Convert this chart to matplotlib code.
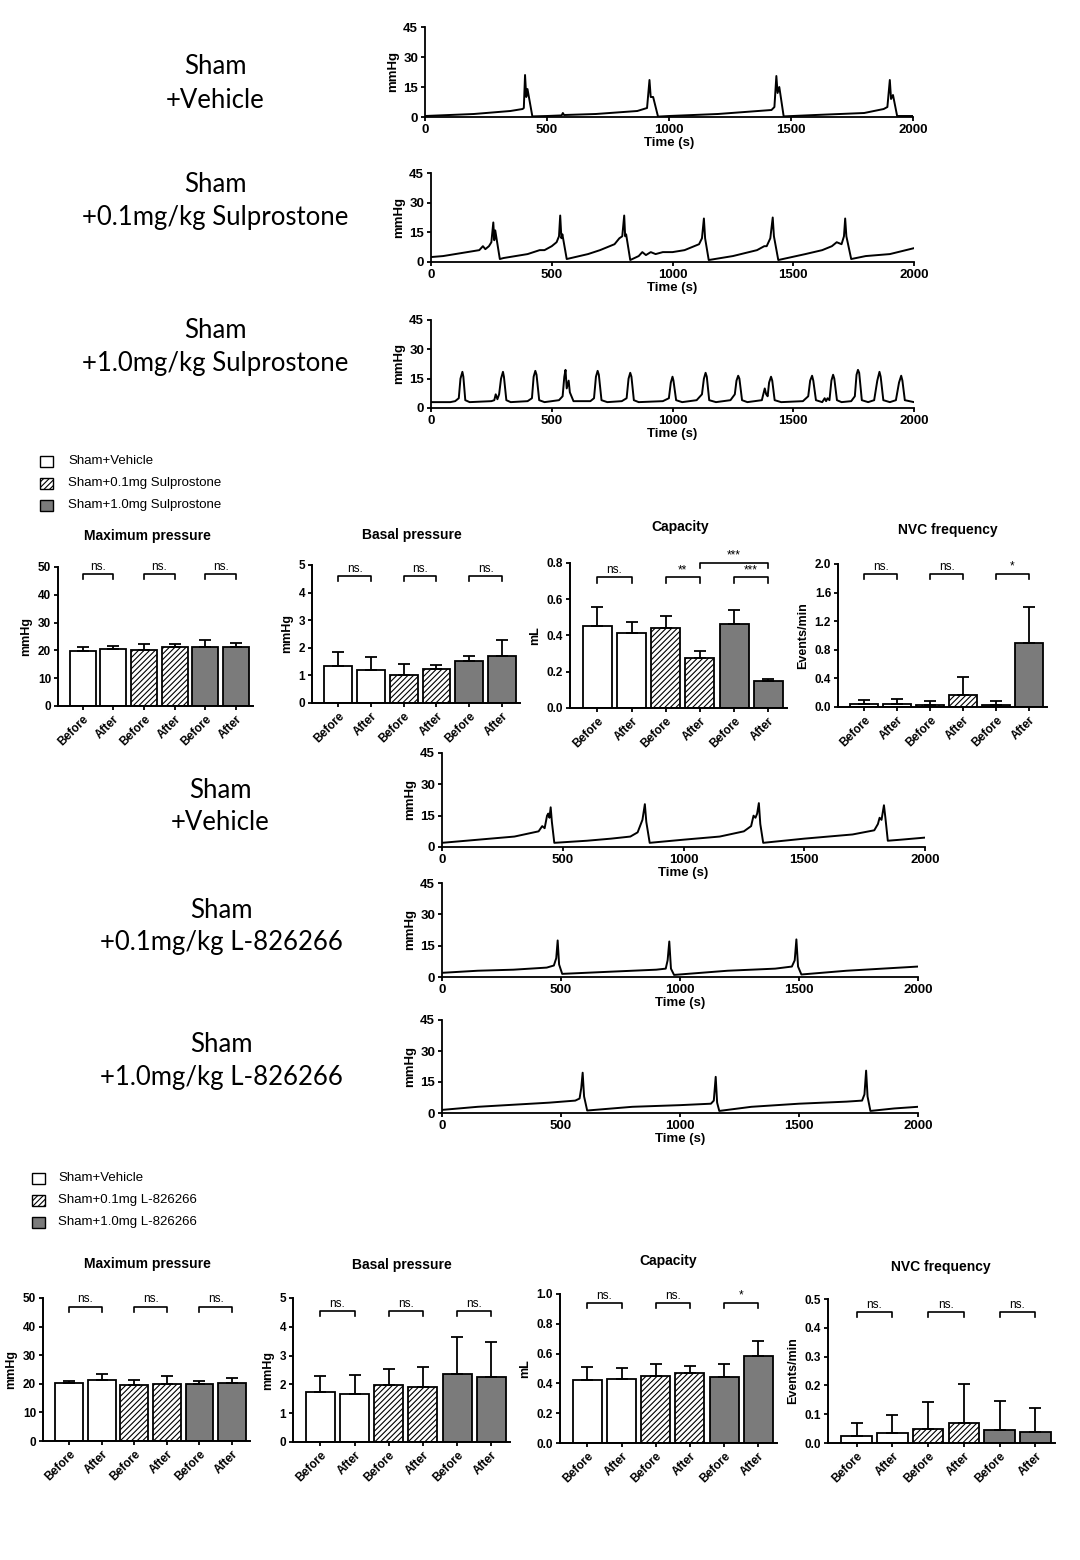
import numpy as np
import matplotlib
matplotlib.use('Agg')
import matplotlib.pyplot as plt
from matplotlib.patches import Rectangle
from matplotlib.ticker import FormatStrFormatter

plt.rcParams['font.family'] = ['Liberation Sans', 'DejaVu Sans']
plt.rcParams['hatch.linewidth'] = 0.8

W, H = 1080, 1560

# ---- pressure traces: (time s, pressure mmHg) ----
TRACE_S_VEH = [(0, 0.5), (200, 1.5), (350, 3.0), (400, 4.0), (405, 4.5), (410, 21), (415, 10),
               (420, 14), (440, 0.3), (500, 0.5), (560, 0.8), (565, 2.0), (570, 1.0), (700, 1.5),
               (870, 3.0), (910, 4.5), (920, 18.5), (925, 10), (935, 10), (955, 0.2), (1000, 0.5),
               (1200, 1.5), (1420, 3.5), (1432, 5.0), (1440, 20.5), (1445, 12), (1452, 15), (1470, 0.3),
               (1600, 1.0), (1800, 2.0), (1880, 4.0), (1895, 5.0), (1905, 18.5), (1910, 9), (1918, 11),
               (1935, 0.5), (2000, 0.5)]
TRACE_S_01 = [(0, 2.5), (50, 3), (100, 4), (150, 5), (200, 6), (215, 8), (225, 6.5), (240, 8),
              (250, 10), (258, 20), (262, 11), (266, 16), (285, 1.5), (300, 2), (400, 4), (450, 6),
              (470, 6), (500, 8), (520, 10), (530, 13), (535, 23.5), (540, 12), (544, 14), (562, 1.5),
              (650, 4), (700, 6), (740, 8), (760, 9), (780, 12), (792, 13), (800, 23.5), (804, 13),
              (808, 14), (825, 1), (860, 3), (875, 5), (890, 3.5), (910, 5), (930, 4), (960, 5),
              (1000, 5), (1050, 6), (1090, 8), (1110, 9), (1122, 12), (1130, 22), (1135, 12),
              (1150, 1), (1250, 3), (1350, 6), (1380, 8), (1390, 8), (1405, 12), (1415, 22.5),
              (1420, 13), (1438, 1), (1550, 4), (1620, 6), (1660, 8), (1680, 10), (1700, 9),
              (1710, 13), (1715, 22), (1720, 13), (1740, 1.5), (1800, 3), (1900, 4), (2000, 7)]
TRACE_S_10 = [(0, 3), (80, 3), (100, 3.5), (115, 5), (122, 15), (130, 18.5), (134, 16), (142, 4),
              (160, 3), (250, 3.5), (262, 4), (268, 7), (275, 4.5), (282, 7), (290, 15), (298, 18.5),
              (302, 16), (312, 4), (330, 3), (400, 3.5), (418, 5), (425, 16), (432, 19), (437, 17),
              (448, 4), (470, 3), (530, 4), (545, 6), (552, 16), (557, 19.5), (562, 10), (570, 14),
              (575, 8), (590, 3.5), (660, 3.5), (675, 5), (683, 16), (690, 19), (695, 17), (706, 4),
              (730, 3), (790, 3.5), (810, 5), (818, 15), (825, 18), (830, 16), (840, 4), (860, 3),
              (960, 3.5), (985, 5), (993, 13), (1000, 16), (1004, 14), (1015, 4), (1040, 3),
              (1100, 4), (1122, 7), (1130, 15), (1137, 18), (1142, 16), (1152, 4), (1180, 3),
              (1240, 4), (1258, 7), (1265, 14), (1272, 16.5), (1277, 15), (1288, 4), (1310, 3),
              (1370, 4), (1382, 10), (1388, 7), (1394, 6), (1400, 13), (1408, 16), (1413, 14),
              (1423, 4), (1450, 3), (1540, 3.5), (1562, 6), (1570, 14), (1578, 16.5), (1583, 14),
              (1594, 4), (1620, 3), (1630, 5), (1636, 3.5), (1642, 5), (1650, 4), (1658, 14),
              (1665, 17), (1670, 15), (1681, 4), (1700, 3), (1740, 3.5), (1755, 6), (1762, 17),
              (1768, 19.5), (1773, 18), (1784, 4), (1810, 3), (1835, 4), (1848, 14), (1857, 18.5),
              (1862, 16), (1873, 4), (1900, 3), (1925, 4), (1938, 13), (1947, 16.5), (1952, 14),
              (1962, 4), (2000, 3)]
TRACE_L_VEH = [(0, 2), (100, 3), (200, 4), (300, 5), (380, 7), (400, 7.5), (415, 10), (425, 9),
               (435, 15), (440, 16), (445, 14), (450, 19), (455, 12), (465, 2), (600, 3), (700, 4),
               (780, 5), (810, 7), (830, 13), (840, 20.5), (846, 12), (860, 2), (1000, 3.5),
               (1150, 5), (1250, 7.5), (1280, 10), (1290, 15), (1298, 14), (1305, 16), (1312, 21),
               (1318, 11), (1330, 2), (1500, 4), (1700, 6), (1790, 8), (1805, 11), (1812, 14),
               (1820, 13), (1830, 20), (1836, 14), (1846, 3), (1900, 3.5), (2000, 4.5)]
TRACE_L_01 = [(0, 2), (150, 3), (300, 3.5), (440, 4.5), (470, 5.5), (480, 9), (486, 17.5),
              (492, 6), (505, 1.5), (700, 2.5), (900, 3.5), (940, 4), (948, 8), (955, 17),
              (962, 4), (975, 1), (1200, 3), (1400, 4), (1470, 5), (1482, 8), (1489, 18),
              (1496, 5), (1510, 1.2), (1700, 3), (1850, 4), (2000, 5)]
TRACE_L_10 = [(0, 1.5), (150, 3), (300, 4), (450, 5), (560, 6), (578, 7), (585, 12), (591, 19.5),
              (597, 8), (610, 1.2), (800, 3), (1000, 3.8), (1130, 4.5), (1142, 6), (1150, 17.5),
              (1156, 5), (1165, 1), (1300, 3), (1500, 4.5), (1700, 5.5), (1765, 6), (1775, 9),
              (1782, 20.5), (1788, 8), (1800, 1), (1900, 2.2), (2000, 3)]

# ---- bar data (mean, top of SEM bar) ----
COND = ['Before', 'After', 'Before', 'After', 'Before', 'After']
S_MAX = [19.7, 20.6, 20.3, 21.1, 21.4, 21.2]
S_MAX_TOP = [21.2, 21.6, 22.4, 22.4, 23.6, 22.6]
S_BAS = [1.35, 1.2, 1.03, 1.22, 1.52, 1.7]
S_BAS_TOP = [1.83, 1.65, 1.4, 1.37, 1.72, 2.27]
S_CAP = [0.455, 0.413, 0.443, 0.278, 0.462, 0.148]
S_CAP_TOP = [0.558, 0.474, 0.507, 0.316, 0.543, 0.158]
S_NVC = [0.04, 0.04, 0.03, 0.17, 0.03, 0.89]
S_NVC_TOP = [0.10, 0.11, 0.08, 0.42, 0.08, 1.40]

L_MAX = [20.2, 21.5, 19.6, 20.0, 19.8, 20.2]
L_MAX_TOP = [21.0, 23.5, 21.4, 22.6, 21.0, 22.0]
L_BAS = [1.72, 1.68, 1.98, 1.92, 2.35, 2.25]
L_BAS_TOP = [2.3, 2.33, 2.53, 2.6, 3.63, 3.47]
L_CAP = [0.425, 0.428, 0.447, 0.472, 0.442, 0.583]
L_CAP_TOP = [0.508, 0.505, 0.528, 0.515, 0.532, 0.683]
L_NVC = [0.023, 0.033, 0.048, 0.069, 0.046, 0.039]
L_NVC_TOP = [0.068, 0.096, 0.141, 0.204, 0.147, 0.120]

FILLS = ['white', 'white', 'white', 'white', '#7b7b7b', '#7b7b7b']
HATCHES = [None, None, '//////', '//////', None, None]

fig = plt.figure(figsize=(W / 100, H / 100), dpi=100)


def add_ax(l, t, r, b):
    return fig.add_axes([l / W, 1 - b / H, (r - l) / W, (b - t) / H])


def ftext(x, y, s, **kw):
    fig.text(x / W, 1 - y / H, s, **kw)


def trace_panel(box, data, xlabel=True):
    ax = add_ax(*box)
    t, p = np.array(data).T
    ax.plot(t, p, color='black', lw=1.4)
    ax.set_xlim(0, 2000)
    ax.set_ylim(0, 45)
    ax.set_xticks([0, 500, 1000, 1500, 2000])
    ax.set_yticks([0, 15, 30, 45])
    for s in ['top', 'right']:
        ax.spines[s].set_visible(False)
    for s in ['left', 'bottom']:
        ax.spines[s].set_linewidth(1.3)
        ax.spines[s].set_clip_on(False)
    ax.tick_params(width=1.3, length=3, labelsize=9.5, pad=2)
    for lab in ax.get_xticklabels() + ax.get_yticklabels():
        lab.set_fontweight('bold')
    ax.set_ylabel('mmHg', fontsize=9.5, fontweight='bold', labelpad=3)
    if xlabel:
        ax.set_xlabel('Time (s)', fontsize=9.5, fontweight='bold', labelpad=1)
    return ax


def bar_panel(box, means, tops, ymax, yticks, fmt, ylabel, brackets):
    ax = add_ax(*box)
    x = np.arange(6)
    for i in range(6):
        ax.bar(x[i], means[i], width=0.85, color=FILLS[i], edgecolor='black',
               hatch=HATCHES[i], linewidth=1.3, zorder=2)
    err = np.array(tops) - np.array(means)
    ax.errorbar(x, means, yerr=[np.zeros(6), err], fmt='none', ecolor='black',
                elinewidth=1.3, capsize=4.5, capthick=1.3, zorder=3)
    ax.set_xlim(-0.8, 5.55)
    ax.set_ylim(0, ymax)
    ax.set_yticks(yticks)
    ax.yaxis.set_major_formatter(FormatStrFormatter(fmt))
    ax.set_xticks(x)
    ax.set_xticklabels(COND, rotation=45, ha='right', rotation_mode='anchor')
    for s in ['top', 'right']:
        ax.spines[s].set_visible(False)
    for s in ['left', 'bottom']:
        ax.spines[s].set_linewidth(1.4)
    ax.tick_params(width=1.3, length=3, labelsize=8.5, pad=2)
    for lab in ax.get_xticklabels() + ax.get_yticklabels():
        lab.set_fontweight('bold')
    ax.set_ylabel(ylabel, fontsize=9, fontweight='bold', labelpad=4)
    d = 0.035 * ymax
    for x0, x1, yb, txt in brackets:
        ax.plot([x0, x0, x1, x1], [yb - d, yb, yb, yb - d], color='black', lw=1.2,
                clip_on=False, zorder=4)
        ax.text((x0 + x1) / 2, yb + 0.008 * ymax, txt, ha='center', va='bottom', fontsize=8.5)
    return ax


def legend_block(x_box, x_text, ys, labels):
    for y, lab, fc, h in zip(ys, labels, ['white', 'white', '#7b7b7b'], [None, '//////', None]):
        fig.patches.append(Rectangle((x_box / W, 1 - (y + 5.5) / H), 13 / W, 11 / H,
                                     transform=fig.transFigure, facecolor=fc, edgecolor='black',
                                     hatch=h, linewidth=1.0))
        ftext(x_text, y, lab, fontsize=9.5, va='center', ha='left')


grp = dict(family=['Lato', 'DejaVu Sans'], fontsize=18.5, ha='center', va='center')

# ---- Sulprostone block ----
ftext(215, 67, 'Sham', **grp)
ftext(215, 100, '+Vehicle', **grp)
ftext(215, 185, 'Sham', **grp)
ftext(215, 218, '+0.1mg/kg Sulprostone', **grp)
ftext(215, 331, 'Sham', **grp)
ftext(215, 364, '+1.0mg/kg Sulprostone', **grp)

trace_panel((425, 27, 913, 117), TRACE_S_VEH)
trace_panel((431, 173, 914, 262), TRACE_S_01)
trace_panel((431, 320, 914, 408), TRACE_S_10)

legend_block(40, 68, [461, 483, 505],
             ['Sham+Vehicle', 'Sham+0.1mg Sulprostone', 'Sham+1.0mg Sulprostone'])

tkw = dict(fontsize=10, fontweight='bold', ha='center', va='center')
ftext(147, 536, 'Maximum pressure', **tkw)
ftext(412, 535, 'Basal pressure', **tkw)
ftext(680, 527, 'Capacity', **tkw)
ftext(948, 530, 'NVC frequency', **tkw)

bar_panel((58, 567, 253, 706), S_MAX, S_MAX_TOP, 50, [0, 10, 20, 30, 40, 50], '%d', 'mmHg',
          [(0, 1, 47.5, 'ns.'), (2, 3, 47.5, 'ns.'), (4, 5, 47.5, 'ns.')])
bar_panel((312, 565, 520, 703), S_BAS, S_BAS_TOP, 5, [0, 1, 2, 3, 4, 5], '%d', 'mmHg',
          [(0, 1, 4.6, 'ns.'), (2, 3, 4.6, 'ns.'), (4, 5, 4.6, 'ns.')])
bar_panel((570, 563, 787, 708), S_CAP, S_CAP_TOP, 0.8, [0, 0.2, 0.4, 0.6, 0.8], '%.1f', 'mL',
          [(0, 1, 0.72, 'ns.'), (2, 3, 0.72, '**'), (3, 5, 0.8, '***'), (4, 5, 0.72, '***')])
bar_panel((838, 564, 1047, 707), S_NVC, S_NVC_TOP, 2.0, [0, 0.4, 0.8, 1.2, 1.6, 2.0], '%.1f',
          'Events/min', [(0, 1, 1.86, 'ns.'), (2, 3, 1.86, 'ns.'), (4, 5, 1.86, '*')])

# ---- L-826266 block ----
ftext(220, 790, 'Sham', **grp)
ftext(220, 823, '+Vehicle', **grp)
ftext(221, 910, 'Sham', **grp)
ftext(221, 943, '+0.1mg/kg L-826266', **grp)
ftext(221, 1044, 'Sham', **grp)
ftext(221, 1077, '+1.0mg/kg L-826266', **grp)

trace_panel((442, 753, 925, 847), TRACE_L_VEH)
trace_panel((442, 883, 918, 977), TRACE_L_01)
trace_panel((442, 1020, 918, 1113), TRACE_L_10)

legend_block(32, 58, [1178, 1200, 1222],
             ['Sham+Vehicle', 'Sham+0.1mg L-826266', 'Sham+1.0mg L-826266'])

ftext(147, 1264, 'Maximum pressure', **tkw)
ftext(402, 1265, 'Basal pressure', **tkw)
ftext(668, 1261, 'Capacity', **tkw)
ftext(941, 1267, 'NVC frequency', **tkw)

bar_panel((43, 1298, 250, 1441), L_MAX, L_MAX_TOP, 50, [0, 10, 20, 30, 40, 50], '%d', 'mmHg',
          [(0, 1, 47, 'ns.'), (2, 3, 47, 'ns.'), (4, 5, 47, 'ns.')])
bar_panel((293, 1298, 510, 1442), L_BAS, L_BAS_TOP, 5, [0, 1, 2, 3, 4, 5], '%d', 'mmHg',
          [(0, 1, 4.55, 'ns.'), (2, 3, 4.55, 'ns.'), (4, 5, 4.55, 'ns.')])
bar_panel((560, 1294, 777, 1443), L_CAP, L_CAP_TOP, 1.0, [0, 0.2, 0.4, 0.6, 0.8, 1.0], '%.1f',
          'mL', [(0, 1, 0.94, 'ns.'), (2, 3, 0.94, 'ns.'), (4, 5, 0.94, '*')])
bar_panel((828, 1299, 1055, 1443), L_NVC, L_NVC_TOP, 0.5, [0, 0.1, 0.2, 0.3, 0.4, 0.5], '%.1f',
          'Events/min', [(0, 1, 0.455, 'ns.'), (2, 3, 0.455, 'ns.'), (4, 5, 0.455, 'ns.')])

fig.savefig('out.png', dpi=100, facecolor='white')
